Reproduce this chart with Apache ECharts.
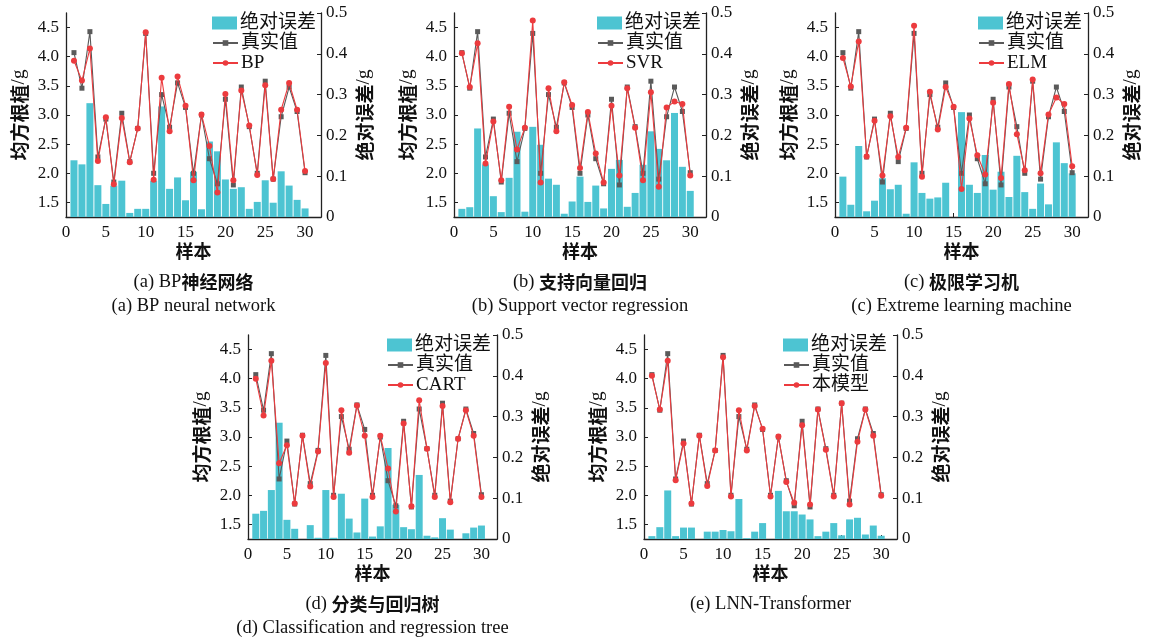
<!DOCTYPE html>
<html><head><meta charset="utf-8">
<script src="https://cdn.jsdelivr.net/npm/echarts@6/dist/echarts.min.js"></script>
<style>html,body{margin:0;padding:0;background:#fff}#c{width:1154px;height:641px}</style>
</head><body><div id="c"></div>
<script>
const samples = [1,2,3,4,5,6,7,8,9,10,11,12,13,14,15,16,17,18,19,20,21,22,23,24,25,26,27,28,29,30];
const xTicks = [0,5,10,15,20,25,30];
const leftTicks = [1.5,2.0,2.5,3.0,3.5,4.0,4.5];
const trueVals = [4.07,3.46,4.43,2.28,2.93,1.85,3.03,2.20,2.77,4.40,2.00,3.35,2.79,3.55,3.13,2.00,3.00,2.25,1.82,3.27,1.80,3.48,2.80,2.00,3.58,1.90,2.97,3.48,3.06,2.01];

const bpPred  = [3.93,3.59,4.14,2.21,2.96,1.81,2.95,2.19,2.77,4.42,1.89,3.64,2.72,3.66,3.16,1.88,3.01,2.47,1.67,3.36,1.88,3.42,2.82,1.97,3.51,1.90,3.09,3.55,3.09,2.04];
const bpErr   = [0.139,0.129,0.279,0.078,0.032,0.077,0.089,0.010,0.020,0.020,0.089,0.271,0.069,0.097,0.041,0.111,0.019,0.185,0.161,0.092,0.069,0.073,0.020,0.037,0.090,0.035,0.112,0.077,0.042,0.021];

const svrPred = [4.06,3.48,4.23,2.17,2.89,1.88,3.14,2.41,2.78,4.62,1.84,3.46,2.72,3.56,3.17,2.09,3.05,2.34,1.84,3.16,1.96,3.46,2.78,1.88,3.39,1.77,3.13,3.23,3.19,1.96];
const svrErr  = [0.020,0.024,0.217,0.129,0.051,0.012,0.096,0.209,0.013,0.221,0.177,0.094,0.079,0.008,0.038,0.099,0.037,0.077,0.021,0.118,0.140,0.025,0.059,0.128,0.210,0.167,0.139,0.255,0.123,0.064];

const elmPred = [3.98,3.49,4.26,2.29,2.90,1.96,2.98,2.28,2.78,4.53,1.94,3.40,2.75,3.48,3.14,1.73,2.94,2.31,1.98,3.21,1.92,3.53,2.67,2.05,3.61,2.00,3.01,3.30,3.19,2.12];
const elmErr  = [0.099,0.030,0.174,0.014,0.040,0.095,0.068,0.079,0.008,0.134,0.059,0.045,0.048,0.084,0,0.257,0.079,0.059,0.152,0.067,0.111,0.049,0.150,0.061,0.020,0.082,0.031,0.183,0.132,0.107];

const cartPred = [4.00,3.37,4.31,2.55,2.86,1.86,3.02,2.15,2.75,4.27,1.97,3.46,2.73,3.54,3.02,1.97,3.02,2.46,1.72,3.23,1.81,3.63,2.80,1.97,3.53,1.88,2.97,3.46,3.02,1.97];
const cartErr  = [0.062,0.069,0.120,0.285,0.047,0.025,0,0.034,0.003,0.120,0.003,0.111,0.050,0.016,0.099,0.006,0.031,0.223,0.084,0.029,0.024,0.157,0.008,0.004,0.051,0.023,0,0.014,0.028,0.033];

const lnnPred = [4.05,3.47,4.31,2.26,2.89,1.86,3.02,2.16,2.77,4.37,1.98,3.46,2.77,3.53,3.14,1.98,3.01,2.23,1.87,3.20,1.84,3.47,2.78,1.98,3.58,1.84,2.92,3.47,3.02,1.99];
const lnnErr  = [0.007,0.029,0.119,0.007,0.028,0.028,0,0.018,0.018,0.022,0.019,0.098,0.002,0.018,0.039,0,0.118,0.068,0.068,0.060,0.048,0.007,0.018,0.039,0.009,0.048,0.052,0.011,0.033,0.008];

const modelNames = ['BP','SVR','ELM','CART','本模型'];
const captionsCN = ['(a) BP神经网络','(b) 支持向量回归','(c) 极限学习机','(d) 分类与回归树','(e) LNN-Transformer'];
const captionsEN = ['(a) BP neural network','(b) Support vector regression','(c) Extreme learning machine','(d) Classification and regression tree',''];

const preds = [bpPred, svrPred, elmPred, cartPred, lnnPred];
const errs = [bpErr, svrErr, elmErr, cartErr, lnnErr];

// layout
const grids = [
  {left:66, top:13, width:255, height:204},
  {left:454, top:13, width:252, height:204},
  {left:835, top:13, width:253, height:204},
  {left:248, top:335, width:249, height:204},
  {left:644, top:335, width:253, height:204}
];
const legendPos = [
  {left:212, top:13},{left:597, top:13},{left:978, top:13},{left:387, top:335},{left:783, top:335}
];

const FONT = '"Liberation Serif","Noto Sans CJK SC",serif';
const AX = '#222';
const BAR = '#4DC4D2', GRAY = '#5a5a5a', RED = '#EC3B3E';

const option = {
  animation:false,
  backgroundColor:'#fff',
  grid:[], xAxis:[], yAxis:[], series:[], legend:[], graphic:[]
};

const nameRich = {
  a:{fontFamily:'"Noto Sans CJK SC"', fontSize:19, fontWeight:'bold', color:'#111'},
  b:{fontFamily:'"Liberation Serif"', fontSize:19, color:'#111'}
};

function richCaption(t){
  return t.split(/([\u4e00-\u9fff]+)/).filter(s=>s.length).map(s=>/[\u4e00-\u9fff]/.test(s)?'{c|'+s+'}':'{s|'+s+'}').join('');
}

grids.forEach((g,k)=>{
  option.grid.push(Object.assign({containLabel:false}, g));
  option.xAxis.push({
    type:'value', gridIndex:k, min:0, max:32,
    name:'样本', nameLocation:'middle', nameGap:24,
    nameTextStyle:{fontFamily:'"Noto Sans CJK SC"', fontSize:18, fontWeight:'bold', color:'#111'},
    axisLine:{lineStyle:{color:AX, width:1.3}},
    axisTick:{inside:true, length:4, customValues:xTicks, lineStyle:{color:AX}},
    axisLabel:{customValues:xTicks, fontFamily:FONT, fontSize:17, color:'#111', margin:7},
    splitLine:{show:false}
  });
  option.yAxis.push({
    type:'value', gridIndex:k, min:1.25, max:4.75, position:'left',
    name:'{a|均方根植}{b|/g}', nameLocation:'middle', nameRotate:90, nameGap:37,
    nameTextStyle:{rich:nameRich},
    axisLine:{show:true, lineStyle:{color:AX, width:1.3}},
    axisTick:{show:true, inside:true, length:4, customValues:leftTicks, lineStyle:{color:AX}},
    axisLabel:{customValues:leftTicks, formatter:v=>Number(v).toFixed(1), fontFamily:FONT, fontSize:17, color:'#111', margin:7},
    splitLine:{show:false}
  });
  option.yAxis.push({
    type:'value', gridIndex:k, min:0, max:0.5, interval:0.1, position:'right',
    name:'{a|绝对误差}{b|/g}', nameLocation:'middle', nameRotate:90, nameGap:34,
    nameTextStyle:{rich:nameRich},
    axisLine:{show:true, lineStyle:{color:AX, width:1.3}},
    axisTick:{show:true, inside:true, length:4, lineStyle:{color:AX}},
    axisLabel:{fontFamily:FONT, fontSize:17, color:'#111', margin:5},
    splitLine:{show:false}
  });
  option.series.push({
    type:'bar', name:'绝对误差', xAxisIndex:k, yAxisIndex:2*k+1,
    barWidth:7, itemStyle:{color:BAR}, z:1,
    data: samples.map((s,i)=>[s, errs[k][i]])
  });
  option.series.push({
    type:'line', name:'真实值', xAxisIndex:k, yAxisIndex:2*k,
    symbol:'rect', symbolSize:5, showSymbol:true,
    lineStyle:{color:GRAY, width:1.1}, itemStyle:{color:GRAY}, z:3,
    data: samples.map((s,i)=>[s, trueVals[i]])
  });
  option.series.push({
    type:'line', name:modelNames[k], xAxisIndex:k, yAxisIndex:2*k,
    symbol:'circle', symbolSize:6, showSymbol:true,
    lineStyle:{color:RED, width:1.1}, itemStyle:{color:RED}, z:4,
    data: samples.map((s,i)=>[s, preds[k][i]])
  });
  const lt = {fontFamily:FONT, fontSize:19, color:'#111', lineHeight:20, padding:[0,0,0,-2]};
  option.legend.push({
    orient:'vertical', left:legendPos[k].left, top:legendPos[k].top, padding:0,
    itemWidth:25, itemHeight:13, itemGap:0, textStyle:lt,
    data:[{name:'绝对误差', icon:'rect'}]
  });
  option.legend.push({
    orient:'vertical', left:legendPos[k].left, top:legendPos[k].top+20, padding:0,
    itemWidth:25, itemHeight:7, itemGap:0, textStyle:lt,
    data:['真实值', modelNames[k]]
  });
  const cx = g.left + g.width/2;
  const baseY = g.top + g.height;
  option.graphic.push({
    type:'text', x:cx, y:baseY+65, style:{
      text:richCaption(captionsCN[k]),
      x:0, y:0, textAlign:'center', textVerticalAlign:'middle',
      rich:{s:{fontFamily:'"Liberation Serif"', fontSize:18.5, fill:'#111'}, c:{fontFamily:'"Noto Sans CJK SC"', fontSize:18, fontWeight:'bold', fill:'#111'}}
    }
  });
  if (captionsEN[k]) option.graphic.push({
    type:'text', x:cx, y:baseY+89, style:{text:captionsEN[k], x:0, y:0, font:'18.5px "Liberation Serif"', fill:'#111', textAlign:'center', textVerticalAlign:'middle'}
  });
});

const chart = echarts.init(document.getElementById('c'), null, {renderer:'canvas'});
chart.setOption(option);
</script></body></html>
